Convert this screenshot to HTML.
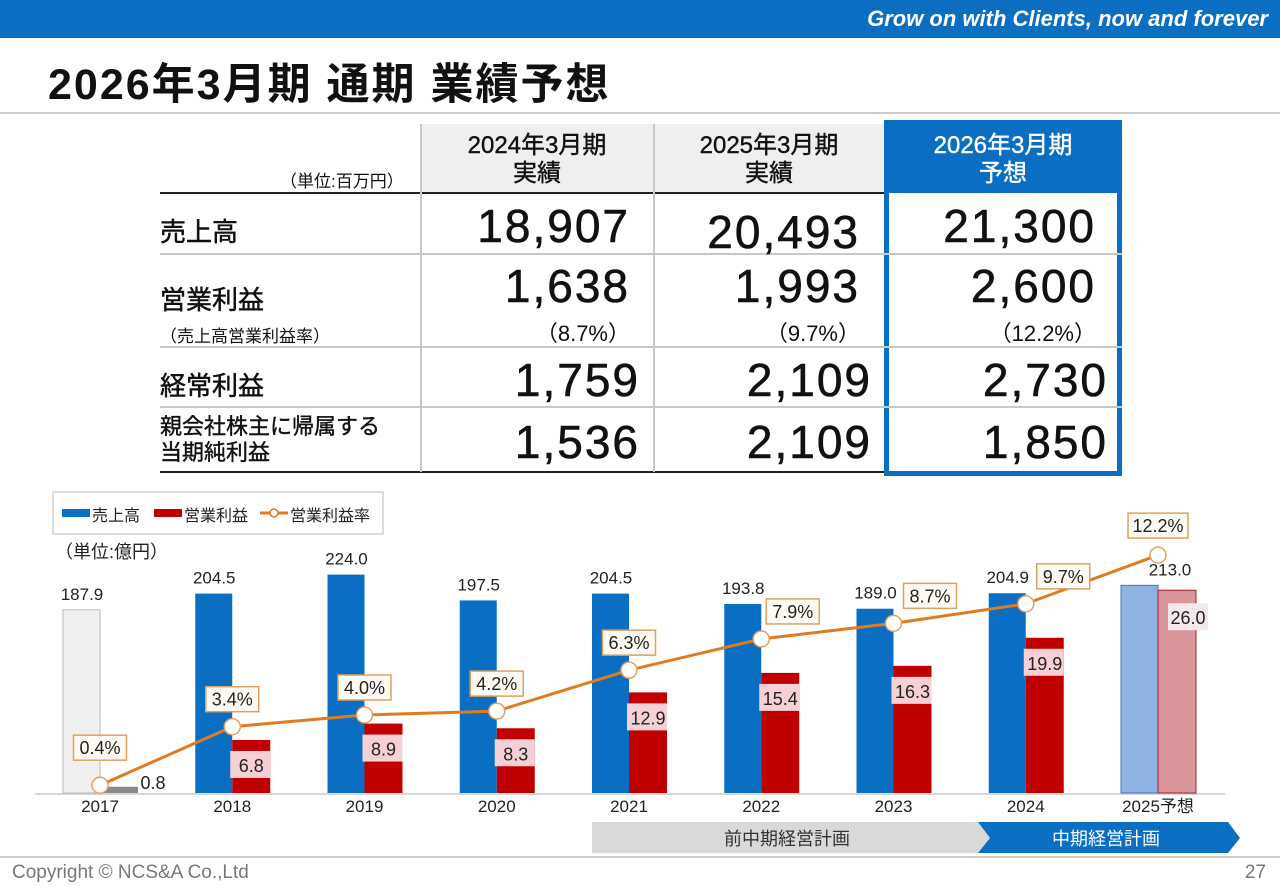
<!DOCTYPE html>
<html><head><meta charset="utf-8">
<style>
*{margin:0;padding:0;box-sizing:border-box}
body{width:1280px;height:886px;background:#fff;position:relative;overflow:hidden;font-family:"Liberation Sans","Noto Sans CJK JP",sans-serif;color:#111}
.a{position:absolute}
.num{position:absolute;font-size:46px;text-align:right;letter-spacing:2px;-webkit-text-stroke:0.6px #111}
.hd{position:absolute;top:124px;height:69px;font-size:24px;line-height:28px;text-align:center;padding-top:8px;-webkit-text-stroke:0.4px currentColor}
.rl{position:absolute;left:160px;font-size:26px;-webkit-text-stroke:0.5px #111}
.hl{position:absolute;height:2px;background:#c8c8c8}
.vl{position:absolute;width:2px;background:#c8c8c8}
.pct{position:absolute;font-size:22px;text-align:right}
</style></head><body>
<div class="a" style="left:0;top:0;width:1280px;height:38px;background:#0a6fc2"></div>
<div class="a" style="right:12px;top:6px;color:#fff;font-size:22px;font-weight:bold;font-style:italic">Grow on with Clients, now and forever</div>
<div class="a" style="left:48px;top:50px;font-size:43px;font-weight:bold;letter-spacing:2px">2026年3月期 通期 業績予想</div>
<div class="a" style="left:0;top:112px;width:1280px;height:2px;background:#ccc"></div>

<div>
<div class="a" style="left:280px;top:167px;font-size:17px">（単位:百万円）</div>
<div class="hd" style="left:420px;width:234px;background:#efefef">2024年3月期<br>実績</div>
<div class="hd" style="left:654px;width:230px;background:#efefef">2025年3月期<br>実績</div>
<div class="hd" style="left:884px;width:238px;background:#0a6fc2;color:#fff;top:120px;height:73px;padding-top:12px">2026年3月期<br>予想</div>
<div class="a" style="left:884px;top:120px;width:238px;height:356px;border:5px solid #0a6fc2"></div>
<div class="a" style="left:160px;top:192px;width:724px;height:2px;background:#222"></div>
<div class="a" style="left:160px;top:471px;width:724px;height:2px;background:#222"></div>
<div class="hl" style="left:160px;top:253px;width:962px"></div>
<div class="hl" style="left:160px;top:346px;width:962px"></div>
<div class="hl" style="left:160px;top:406px;width:962px"></div>
<div class="vl" style="left:420px;top:124px;height:348px"></div>
<div class="vl" style="left:653px;top:124px;height:348px"></div>

<div class="rl" style="top:212px">売上高</div>
<div class="rl" style="top:280px">営業利益</div>
<div class="a" style="left:160px;top:322px;font-size:17px">（売上高営業利益率）</div>
<div class="rl" style="top:366px">経常利益</div>
<div class="a" style="left:160px;top:414px;font-size:22px;line-height:26px;-webkit-text-stroke:0.4px #111">親会社株主に帰属する<br>当期純利益</div>

<div class="num" style="left:420px;width:210px;top:199px">18,907</div>
<div class="num" style="left:654px;width:206px;top:205px">20,493</div>
<div class="num" style="left:884px;width:212px;top:199px">21,300</div>
<div class="num" style="left:420px;width:210px;top:259px">1,638</div>
<div class="num" style="left:654px;width:206px;top:259px">1,993</div>
<div class="num" style="left:884px;width:212px;top:259px">2,600</div>
<div class="pct" style="left:420px;width:210px;top:316px">（8.7%）</div>
<div class="pct" style="left:654px;width:206px;top:316px">（9.7%）</div>
<div class="pct" style="left:884px;width:212px;top:316px">（12.2%）</div>
<div class="num" style="left:420px;width:220px;top:353px">1,759</div>
<div class="num" style="left:654px;width:218px;top:353px">2,109</div>
<div class="num" style="left:884px;width:224px;top:353px">2,730</div>
<div class="num" style="left:420px;width:220px;top:415px">1,536</div>
<div class="num" style="left:654px;width:218px;top:415px">2,109</div>
<div class="num" style="left:884px;width:224px;top:415px">1,850</div>
</div>

<svg id="chart" class="a" style="left:0;top:0" width="1280" height="886"></svg>

<div class="a" style="left:0;top:856px;width:1280px;height:2px;background:#ccc"></div>
<div class="a" style="left:12px;top:862px;font-size:19px;color:#777">Copyright © NCS&amp;A Co.,Ltd</div>
<div class="a" style="right:14px;top:862px;font-size:19px;color:#777">27</div>

<script>
const categories=["2017","2018","2019","2020","2021","2022","2023","2024","2025予想"];
const salesValues=[187.9,204.5,224.0,197.5,204.5,193.8,189.0,204.9,213.0];
const opValues=[0.8,6.8,8.9,8.3,12.9,15.4,16.3,19.9,26.0];
const marginValues=[0.4,3.4,4.0,4.2,6.3,7.9,8.7,9.7,12.2];
const labelShift=[0,0,0,0,0,30,35,36,0];
const NS="http://www.w3.org/2000/svg";
const svg=document.getElementById('chart');
const base=793;
const xC=i=>100+i*132.25;
const ySales=v=>base-v*0.975;
const yOp=v=>base-v*7.8;
const yPct=v=>base-v*19.5;
function mk(tag,attrs,parent){const e=document.createElementNS(NS,tag);for(const k in attrs)e.setAttribute(k,attrs[k]);(parent||svg).appendChild(e);return e;}
function tx(x,y,s,size,anchor,fill){const t=mk('text',{x:x,y:y,'font-size':size,'text-anchor':anchor||'middle',fill:fill||'#222','font-family':'Liberation Sans, Noto Sans CJK JP, sans-serif'});t.textContent=s;return t;}

const lg=mk('rect',{x:53,y:492,width:330,height:42,fill:'#fff',stroke:'#bbb'});


mk('rect',{x:62,y:509,width:28,height:8,fill:'#0a6fc2'});
tx(92,521,'売上高',16,'start');
mk('rect',{x:154,y:509,width:28,height:8,fill:'#c00000'});
tx(184,521,'営業利益',16,'start');
mk('line',{x1:260,y1:513,x2:288,y2:513,stroke:'#e07b20','stroke-width':3});
mk('circle',{cx:274,cy:513,r:4,fill:'#fff',stroke:'#e07b20','stroke-width':1.5});
tx(290,521,'営業利益率',16,'start');
tx(55,558,'（単位:億円）',18,'start');

const ax=mk('line',{x1:35,y1:base+1,x2:1225,y2:base+1,stroke:'#ccc','stroke-width':1.5});



categories.forEach((c,i)=>{
  const cx=xC(i);
  const last=i===categories.length-1, first=i===0;
  const sTop=ySales(salesValues[i]);
  const b=mk('rect',{x:cx-37,y:sTop,width:37,height:base-sTop,fill:first?'#efefef':last?'#8fb4e3':'#0a6fc2',stroke:first?'#bbb':last?'#4a74b0':'none'});
  
  
  const oTop=yOp(opValues[i]);
  const r=mk('rect',{x:cx,y:oTop,width:38,height:base-oTop,fill:first?'#888':last?'#d9959a':'#c00000',stroke:last?'#a02030':'none'});
  
  
  const st=tx(last?cx+12:cx-18,sTop-10,salesValues[i].toFixed(1),17);
  
  
  let ly=first?base-4:oTop+32;
  if(last) ly=oTop+34;
  if(!first){mk('rect',{x:cx+(last?10:-2),y:ly-21,width:40,height:27,fill:last?'#f4e8ea':'#f6d0d4'});}
  const ot=tx(cx+(last?30:19)+(first?34:0),ly,opValues[i].toFixed(1),18);
  
  
  const xl=tx(cx,base+19,c,17);
  
  
});
const pts=marginValues.map((v,i)=>xC(i)+','+yPct(v)).join(' ');
const pl=mk('polyline',{points:pts,fill:'none',stroke:'#e07b20','stroke-width':3});


marginValues.forEach((v,i)=>{
  const cx=xC(i),cy=yPct(v);
  const p=mk('circle',{cx:cx,cy:cy,r:8,fill:'#fff',stroke:'#e7a060','stroke-width':1.5});
  
  
  const s=v.toFixed(1)+'%';
  const w=s.length>4?60:53;
  const bx=cx+labelShift[i]-w/2+(labelShift[i]?w/2-25:0), by=cy-(i===0?50:i<5?40:i===8?42:40);
  mk('rect',{x:bx,y:by,width:w,height:25,fill:'#fffaf3',stroke:'#e0a060','stroke-width':1.5});
  const t=tx(bx+w/2,by+19,s,18);
  
  
});
const g1=mk('polygon',{points:'592,822 978,822 990,838 978,853 592,853',fill:'#d9d9d9'});


tx(787,845,'前中期経営計画',18,'middle','#333');
const g2=mk('polygon',{points:'978,822 1228,822 1240,838 1228,853 978,853 990,838',fill:'#0a6fc2'});


tx(1106,845,'中期経営計画',18,'middle','#fff');
</script>
</body></html>
